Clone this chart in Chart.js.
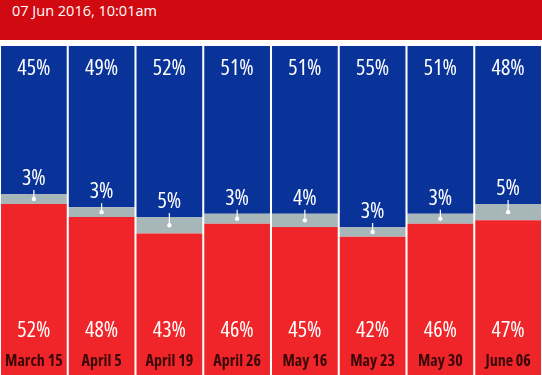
<!DOCTYPE html>
<html>
<head>
<meta charset="utf-8">
<script src="https://cdn.jsdelivr.net/npm/chart.js@4"></script>
<style>
  html, body { margin: 0; padding: 0; background: #ffffff; width: 542px; height: 375px; overflow: hidden; }
  #hdr { height: 40px; background: #d10a11; color: #ffffff; font-family: "Open Sans", "Liberation Sans", sans-serif; font-size: 14.5px; line-height: 22px; padding-left: 12px; box-sizing: border-box; }
  #gap { height: 6px; }
</style>
</head>
<body>
<div id="hdr">07 Jun 2016, 10:01am</div>
<div id="gap"></div>
<canvas id="c" width="542" height="329"></canvas>
<script>
const categories = ["March 15", "April 5", "April 19", "April 26", "May 16", "May 23", "May 30", "June 06"];
const remainValues = [52, 48, 43, 46, 45, 42, 46, 47];
const undecidedValues = [3, 3, 5, 3, 4, 3, 3, 5];
const leaveValues = [45, 49, 52, 51, 51, 55, 51, 48];

const pctFont = '"Open Sans", "DejaVu Sans", sans-serif';

const labelPlugin = {
  id: 'labels',
  afterDatasetsDraw(chart) {
    const ctx = chart.ctx;
    const area = chart.chartArea;
    const redMeta = chart.getDatasetMeta(0);
    const grayMeta = chart.getDatasetMeta(1);
    ctx.save();
    ctx.textAlign = 'center';
    ctx.textBaseline = 'middle';
    categories.forEach((cat, i) => {
      const x = redMeta.data[i].x;
      ctx.fillStyle = '#ffffff';
      ctx.font = '500 22px ' + pctFont;
      ctx.fontStretch = 'condensed';
      ctx.fillText(leaveValues[i] + '%', x, area.top + 23);
      ctx.fillText(remainValues[i] + '%', x, area.bottom - 44);
      const g = grayMeta.data[i];
      const gTop = g.y, gBot = g.base;
      const dotY = (gTop + gBot) / 2;
      ctx.fillText(undecidedValues[i] + '%', x, gTop - 15);
      ctx.strokeStyle = '#ffffff';
      ctx.lineWidth = 1.2;
      ctx.beginPath();
      ctx.moveTo(x, gTop - 4);
      ctx.lineTo(x, dotY);
      ctx.stroke();
      ctx.beginPath();
      ctx.arc(x, dotY, 2.2, 0, Math.PI * 2);
      ctx.fill();
      ctx.fillStyle = '#3a0808';
      ctx.font = 'bold 16px ' + pctFont;
      ctx.fontStretch = 'condensed';
      ctx.fillText(cat, x, area.bottom - 14);
    });
    ctx.restore();
  }
};

new Chart(document.getElementById('c'), {
  type: 'bar',
  data: {
    labels: categories,
    datasets: [
      { label: 'Remain', data: remainValues, backgroundColor: '#f0252a' },
      { label: 'Undecided', data: undecidedValues, backgroundColor: '#a6b6b9' },
      { label: 'Leave', data: leaveValues, backgroundColor: '#0a3399' }
    ]
  },
  options: {
    responsive: false,
    animation: false,
    layout: { padding: 0 },
    datasets: { bar: { barPercentage: 0.97, categoryPercentage: 1.0, borderWidth: 0 } },
    plugins: { legend: { display: false }, tooltip: { enabled: false }, title: { display: false } },
    scales: {
      x: { stacked: true, display: false },
      y: { stacked: true, display: false, min: 0, max: 100 }
    }
  },
  plugins: [labelPlugin]
});
</script>
</body>
</html>
